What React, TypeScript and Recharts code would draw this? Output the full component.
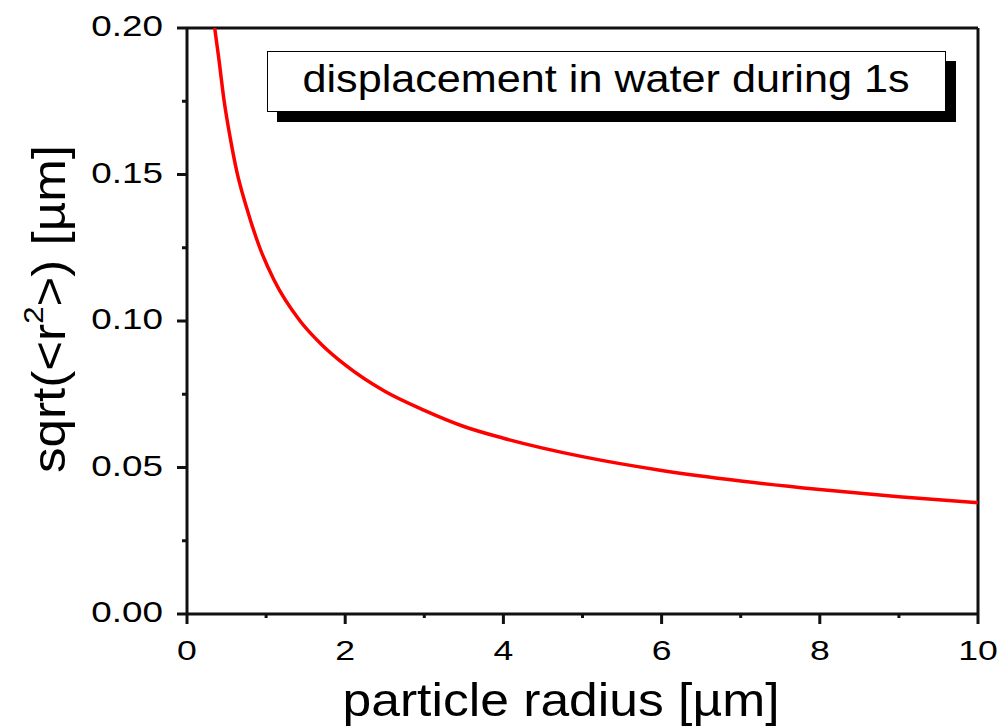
import React from 'react';
import { LineChart, Line, XAxis, YAxis, ReferenceLine, Legend, Label } from 'recharts';

// values
const radius = [0.35, 0.4, 0.47, 0.55, 0.63, 0.75, 0.92, 1.1, 1.43, 1.7, 2, 2.5, 3, 3.5, 4, 5, 6, 7, 8, 9, 10];
const displacement = [
  0.2, 0.19, 0.175, 0.162, 0.151, 0.139, 0.125, 0.114, 0.1, 0.092, 0.085, 0.076, 0.0695, 0.064, 0.06, 0.0537,
  0.049, 0.0454, 0.0425, 0.04, 0.038,
];

const xMajorTicks = [0, 2, 4, 6, 8, 10];
const xMinorTicks = [1, 3, 5, 7, 9];
const yMajorTicks = [0, 0.05, 0.1, 0.15, 0.2];
const yMinorTicks = [0.025, 0.075, 0.125, 0.175];

const legendText = 'displacement in water during 1s';
const xTitle = 'particle radius [µm]';

const data = radius.map((r, i) => ({ r, d: displacement[i] }));
const xTicks = [...xMajorTicks, ...xMinorTicks].sort((a, b) => a - b);
const yTicks = [...yMajorTicks, ...yMinorTicks].sort((a, b) => a - b);

const FONT = '"Liberation Sans", Arial, sans-serif';
const AXIS = '#111';
const AXIS_W = 3;

const isMajor = (list: number[], v: number) => list.some((t) => Math.abs(t - v) < 1e-9);

const XTick = (props: any) => {
  const { x, y, payload } = props;
  const major = isMajor(xMajorTicks, payload.value);
  return (
    <g>
      <line x1={x} x2={x} y1={y} y2={y + (major ? 10 : 4)} stroke={AXIS} strokeWidth={AXIS_W} />
      {major && (
        <text
          transform={`translate(${x},${y + 46}) scale(1.27,1)`}
          textAnchor="middle"
          fontFamily={FONT}
          fontSize={28}
          fill="#000"
        >
          {payload.value}
        </text>
      )}
    </g>
  );
};

const YTick = (props: any) => {
  const { x, y, payload } = props;
  const major = isMajor(yMajorTicks, payload.value);
  return (
    <g>
      <line x1={x} x2={x - (major ? 10 : 5)} y1={y} y2={y} stroke={AXIS} strokeWidth={AXIS_W} />
      {major && (
        <text
          transform={`translate(${x - 24},${y + 8}) scale(1.27,1)`}
          textAnchor="end"
          fontFamily={FONT}
          fontSize={29}
          fill="#000"
        >
          {payload.value.toFixed(2)}
        </text>
      )}
    </g>
  );
};

const XTitle = () => (
  <text
    x={561}
    y={716}
    textAnchor="middle"
    fontFamily={FONT}
    fontSize={47}
    textLength={437}
    lengthAdjust="spacingAndGlyphs"
    fill="#000"
  >
    {xTitle}
  </text>
);

const YTitle = () => (
  <text
    transform="translate(65,309) rotate(-90)"
    textAnchor="middle"
    fontFamily={FONT}
    fontSize={46}
    textLength={328}
    lengthAdjust="spacingAndGlyphs"
    fill="#000"
  >
    sqrt(&lt;r
    <tspan fontSize={28} dy={-22}>
      2
    </tspan>
    <tspan dy={22}>&gt;) [µm]</tspan>
  </text>
);

const LegendBox = () => (
  <div
    style={{
      width: 679,
      height: 61,
      boxSizing: 'border-box',
      border: '1.5px solid #000',
      background: '#fff',
      boxShadow: '10px 10px 0 #000',
    }}
  >
    <svg width={676} height={58} style={{ display: 'block' }}>
      <text
        x={338}
        y={40}
        textAnchor="middle"
        fontFamily={FONT}
        fontSize={38}
        textLength={607}
        lengthAdjust="spacingAndGlyphs"
        fill="#000"
      >
        {legendText}
      </text>
    </svg>
  </div>
);

export default function App() {
  return (
    <div style={{ position: 'absolute', left: 0, top: 0, width: 999, height: 727, background: '#fff' }}>
      <LineChart width={999} height={727} data={data} margin={{ top: 28, right: 21, bottom: 53, left: 67 }}>
        <XAxis
          type="number"
          dataKey="r"
          domain={[0, 10]}
          ticks={xTicks}
          interval={0}
          height={60}
          tickSize={0}
          tickMargin={0}
          tickLine={false}
          tick={XTick}
          axisLine={{ stroke: AXIS, strokeWidth: AXIS_W }}
        >
          <Label content={XTitle} />
        </XAxis>
        <YAxis
          type="number"
          domain={[0, 0.2]}
          ticks={yTicks}
          interval={0}
          width={120}
          tickSize={0}
          tickMargin={0}
          tickLine={false}
          tick={YTick}
          allowDataOverflow
          axisLine={{ stroke: AXIS, strokeWidth: AXIS_W }}
        >
          <Label content={YTitle} />
        </YAxis>
        <ReferenceLine y={0.2} stroke={AXIS} strokeWidth={AXIS_W} />
        <ReferenceLine x={10} stroke={AXIS} strokeWidth={AXIS_W} />
        <Line
          type="monotone"
          dataKey="d"
          stroke="#ff0000"
          strokeWidth={3.5}
          dot={false}
          activeDot={false}
          isAnimationActive={false}
        />
        <Legend
          layout="vertical"
          align="center"
          verticalAlign="middle"
          content={LegendBox}
          wrapperStyle={{ top: 51, left: 267, width: 679 }}
        />
      </LineChart>
    </div>
  );
}
